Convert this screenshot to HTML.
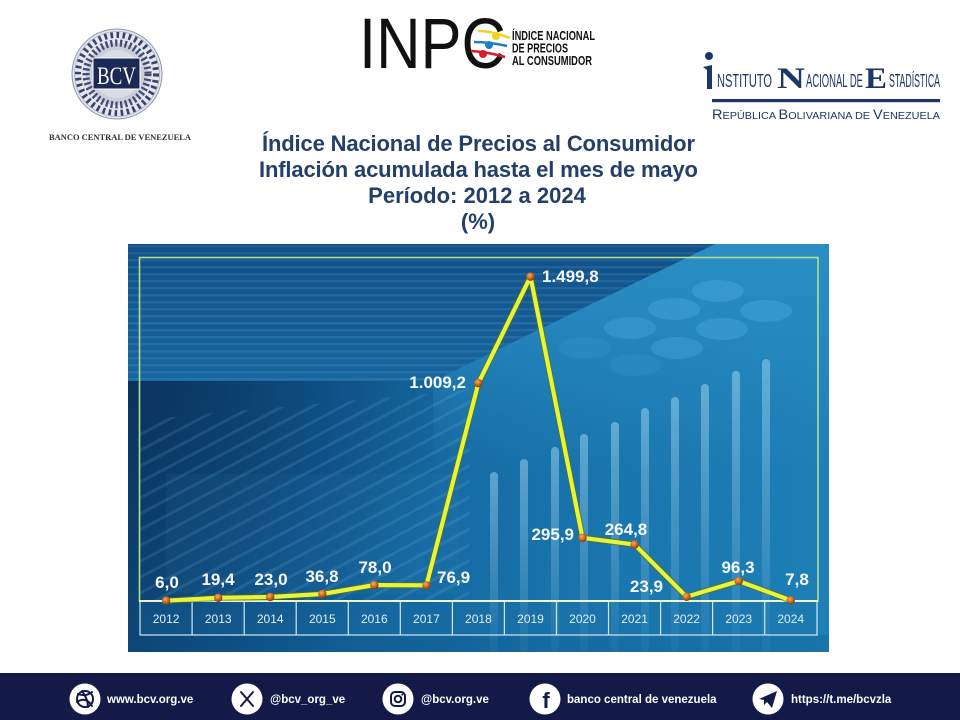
<!DOCTYPE html>
<html><head><meta charset="utf-8">
<style>
html,body{margin:0;padding:0;background:#fff;}
svg{display:block;}
</style></head><body>
<svg width="960" height="720" viewBox="0 0 960 720" xmlns="http://www.w3.org/2000/svg" font-family="'Liberation Sans', Arial, sans-serif">
<defs>
 <linearGradient id="base" x1="128" y1="0" x2="829" y2="0" gradientUnits="userSpaceOnUse">
  <stop offset="0" stop-color="#0f4b7e"/>
  <stop offset="0.3" stop-color="#13629b"/>
  <stop offset="0.62" stop-color="#1973ab"/>
  <stop offset="1" stop-color="#1d7fb6"/>
 </linearGradient>
 <linearGradient id="band" x1="0" y1="244" x2="0" y2="381" gradientUnits="userSpaceOnUse">
  <stop offset="0" stop-color="#0f5088"/>
  <stop offset="1" stop-color="#1666a0"/>
 </linearGradient>
 <pattern id="hstripe" width="10" height="7" patternUnits="userSpaceOnUse">
  <rect width="10" height="2.5" fill="#ffffff" opacity="0.08"/>
 </pattern>
 <linearGradient id="tr" x1="0" y1="244" x2="0" y2="470" gradientUnits="userSpaceOnUse">
  <stop offset="0" stop-color="#2a8fc5" stop-opacity="1"/>
  <stop offset="1" stop-color="#2a8fc5" stop-opacity="0"/>
 </linearGradient>
 <radialGradient id="dark" cx="128" cy="381" r="340" gradientUnits="userSpaceOnUse">
  <stop offset="0" stop-color="#072b52" stop-opacity="0.75"/>
  <stop offset="1" stop-color="#072b52" stop-opacity="0"/>
 </radialGradient>
 <linearGradient id="bar" x1="0" y1="0" x2="0" y2="1">
  <stop offset="0" stop-color="#a6d8f2" stop-opacity="0.5"/>
  <stop offset="1" stop-color="#a6d8f2" stop-opacity="0.06"/>
 </linearGradient>
 <pattern id="diag" width="14" height="14" patternUnits="userSpaceOnUse" patternTransform="rotate(-28)">
  <rect width="14" height="3" fill="#7fc0e8" opacity="0.15"/>
 </pattern>
 <radialGradient id="pt" cx="0.4" cy="0.35" r="0.7">
  <stop offset="0" stop-color="#f7b060"/>
  <stop offset="0.55" stop-color="#c8661c"/>
  <stop offset="1" stop-color="#6e3208"/>
 </radialGradient>
 <clipPath id="panel"><rect x="128" y="244" width="701" height="408"/></clipPath>
</defs>

<rect width="960" height="720" fill="#ffffff"/>

<!-- BCV seal -->
<g>
 <circle cx="117" cy="74" r="45" fill="#e4e7ee" stroke="#8c95a8" stroke-width="1"/>
 <circle cx="117" cy="74" r="42.5" fill="none" stroke="#aab2c2" stroke-width="0.8"/>
 <circle cx="117" cy="74" r="31" fill="#c9ced9"/>
 <circle cx="117" cy="74" r="31" fill="none" stroke="#26335e" stroke-width="7" stroke-dasharray="2.2 2.6" opacity="0.85"/>
 <circle cx="117" cy="74" r="39" fill="none" stroke="#26335e" stroke-width="6" stroke-dasharray="2.6 3.5" opacity="0.9"/>
 <circle cx="117" cy="74" r="24" fill="#d9dde6"/>
 <rect x="93" y="58" width="47" height="31" fill="#1b2a55" stroke="#ffffff" stroke-width="1"/>
 <text x="116.5" y="84" font-family="'Liberation Serif', serif" font-size="25" fill="#ffffff" text-anchor="middle" textLength="39" lengthAdjust="spacingAndGlyphs">BCV</text>
</g>
<text x="49" y="140" font-family="'Liberation Serif', serif" font-size="8" font-weight="bold" fill="#333" textLength="142" lengthAdjust="spacingAndGlyphs">BANCO CENTRAL DE VENEZUELA</text>

<!-- INPC logo -->
<g>
 <text x="359" y="68" font-size="71" fill="#111" textLength="147" lengthAdjust="spacingAndGlyphs">INPC</text>
 <path d="M478 31 Q492 31 510 38" stroke="#f2d21c" stroke-width="2.5" fill="none"/>
 <circle cx="496" cy="36" r="4" fill="#f2d21c"/>
 <path d="M474 42 Q490 42 507 46" stroke="#1f7fc4" stroke-width="2.5" fill="none"/>
 <circle cx="489" cy="45" r="4" fill="#1f7fc4"/>
 <path d="M471 51 Q488 52 505 57" stroke="#d81d2b" stroke-width="2.5" fill="none"/>
 <circle cx="483" cy="54" r="4" fill="#d81d2b"/>
 <text x="512" y="40" font-size="13" font-weight="bold" fill="#111" textLength="83" lengthAdjust="spacingAndGlyphs">ÍNDICE NACIONAL</text>
 <text x="512" y="52.5" font-size="13" font-weight="bold" fill="#111" textLength="56" lengthAdjust="spacingAndGlyphs">DE PRECIOS</text>
 <text x="512" y="65" font-size="13" font-weight="bold" fill="#111" textLength="80" lengthAdjust="spacingAndGlyphs">AL CONSUMIDOR</text>
</g>

<!-- INE logo -->
<g fill="#1c3668">
 <circle cx="709" cy="56" r="4"/>
 <path d="M703 67 L712 65 L712 89 L707 89 L707 70 Z"/>
 <text x="717" y="87" font-size="18" textLength="55" lengthAdjust="spacingAndGlyphs">NSTITUTO</text>
 <text x="777" y="88" font-family="'Liberation Serif', serif" font-size="30" font-weight="bold" textLength="28" lengthAdjust="spacingAndGlyphs">N</text>
 <text x="806" y="87" font-size="18" textLength="57" lengthAdjust="spacingAndGlyphs">ACIONAL DE</text>
 <text x="865" y="88" font-family="'Liberation Serif', serif" font-size="30" font-weight="bold" textLength="22" lengthAdjust="spacingAndGlyphs">E</text>
 <text x="889" y="87" font-size="18" textLength="51" lengthAdjust="spacingAndGlyphs">STADÍSTICA</text>
 <rect x="712" y="99" width="228" height="3.2"/>
 <text x="712" y="119" font-size="10.5" textLength="228" lengthAdjust="spacingAndGlyphs"><tspan font-size="14">R</tspan>EPÚBLICA <tspan font-size="14">B</tspan>OLIVARIANA DE <tspan font-size="14">V</tspan>ENEZUELA</text>
</g>

<!-- Title -->
<g font-size="22" font-weight="bold" fill="#243f68">
 <text x="262" y="151" textLength="433">Índice Nacional de Precios al Consumidor</text>
 <text x="259" y="177" textLength="439">Inflación acumulada hasta el mes de mayo</text>
 <text x="477" y="203" text-anchor="middle">Período: 2012 a 2024</text>
 <text x="478" y="229" text-anchor="middle">(%)</text>
</g>

<!-- Chart panel -->
<g clip-path="url(#panel)">
 <rect x="128" y="244" width="701" height="408" fill="url(#base)"/>
 <polygon points="433,381 715,244 829,244 829,470 433,470" fill="url(#tr)"/>
 <rect x="128" y="381" width="500" height="271" fill="url(#dark)"/>
 <polygon points="140,600 140,420 470,390 470,600" fill="url(#diag)"/>
 <polygon points="128,244 715,244 433,381 128,381" fill="url(#band)"/>
 <polygon points="128,244 715,244 433,381 128,381" fill="url(#hstripe)"/>
 <rect x="166" y="474" width="294" height="120" fill="#4aa0d8" opacity="0.07"/>
 <g fill="#4aa8dc">
  <ellipse cx="718" cy="291" rx="26" ry="11" opacity="0.45"/>
  <ellipse cx="674" cy="309" rx="26" ry="11" opacity="0.45"/>
  <ellipse cx="766" cy="311" rx="26" ry="11" opacity="0.45"/>
  <ellipse cx="630" cy="328" rx="26" ry="11" opacity="0.4"/>
  <ellipse cx="722" cy="329" rx="26" ry="11" opacity="0.45"/>
  <ellipse cx="677" cy="348" rx="26" ry="11" opacity="0.4"/>
  <ellipse cx="585" cy="348" rx="26" ry="11" opacity="0.18"/>
  <ellipse cx="635" cy="365" rx="26" ry="11" opacity="0.18"/>
 </g>
 <g fill="url(#bar)">
  <rect x="490" y="472" width="8" height="180" rx="4"/>
  <rect x="520" y="459" width="8" height="193" rx="4"/>
  <rect x="551" y="447" width="8" height="205" rx="4"/>
  <rect x="580" y="434" width="8" height="218" rx="4"/>
  <rect x="611" y="422" width="8" height="230" rx="4"/>
  <rect x="641" y="408" width="8" height="244" rx="4"/>
  <rect x="671" y="397" width="8" height="255" rx="4"/>
  <rect x="701" y="384" width="8" height="268" rx="4"/>
  <rect x="732" y="371" width="8" height="281" rx="4"/>
  <rect x="762" y="359" width="8" height="293" rx="4"/>
 </g>
 <rect x="128" y="635" width="701" height="17" fill="#0a4a7c" opacity="0.2"/>
</g>

<!-- frame & table -->
<rect x="139.5" y="257.5" width="678.5" height="343.5" fill="none" stroke="#b5dc8c" stroke-width="1.6"/>
<rect x="140" y="601" width="677" height="34" fill="#1a6fa6" opacity="0.25"/>
<rect x="140" y="601" width="677" height="34" fill="none" stroke="#cfe8f4" stroke-width="1.2"/>
<g stroke="#cfe8f4" stroke-width="1.2">
 <line x1="192.1" y1="601" x2="192.1" y2="635"/>
 <line x1="244.2" y1="601" x2="244.2" y2="635"/>
 <line x1="296.2" y1="601" x2="296.2" y2="635"/>
 <line x1="348.3" y1="601" x2="348.3" y2="635"/>
 <line x1="400.3" y1="601" x2="400.3" y2="635"/>
 <line x1="452.4" y1="601" x2="452.4" y2="635"/>
 <line x1="504.4" y1="601" x2="504.4" y2="635"/>
 <line x1="556.5" y1="601" x2="556.5" y2="635"/>
 <line x1="608.5" y1="601" x2="608.5" y2="635"/>
 <line x1="660.6" y1="601" x2="660.6" y2="635"/>
 <line x1="712.6" y1="601" x2="712.6" y2="635"/>
 <line x1="764.7" y1="601" x2="764.7" y2="635"/>
</g>
<line x1="139" y1="601" x2="818" y2="601" stroke="#eef5c0" stroke-width="2"/>
<g font-size="12" fill="#e2eff7" text-anchor="middle">
 <text x="166.1" y="623">2012</text>
 <text x="218.2" y="623">2013</text>
 <text x="270.2" y="623">2014</text>
 <text x="322.3" y="623">2015</text>
 <text x="374.3" y="623">2016</text>
 <text x="426.4" y="623">2017</text>
 <text x="478.4" y="623">2018</text>
 <text x="530.5" y="623">2019</text>
 <text x="582.5" y="623">2020</text>
 <text x="634.6" y="623">2021</text>
 <text x="686.6" y="623">2022</text>
 <text x="738.7" y="623">2023</text>
 <text x="790.7" y="623">2024</text>
</g>

<!-- series line -->
<polyline points="166.1,600.7 218.2,597.8 270.2,597.0 322.3,594.0 374.3,585.1 426.4,585.3 478.4,383.1 530.5,276.7 582.5,537.8 634.6,544.6 686.6,596.8 738.7,581.1 790.7,600.3" fill="none" stroke="#5f6e12" stroke-width="6.5" stroke-linejoin="round" opacity="0.6"/>
<polyline points="166.1,600.7 218.2,597.8 270.2,597.0 322.3,594.0 374.3,585.1 426.4,585.3 478.4,383.1 530.5,276.7 582.5,537.8 634.6,544.6 686.6,596.8 738.7,581.1 790.7,600.3" fill="none" stroke="#e6f43a" stroke-width="4.2" stroke-linejoin="round"/>
<g fill="url(#pt)">
 <circle cx="166.1" cy="600.7" r="4.2"/>
 <circle cx="218.2" cy="597.8" r="4.2"/>
 <circle cx="270.2" cy="597.0" r="4.2"/>
 <circle cx="322.3" cy="594.0" r="4.2"/>
 <circle cx="374.3" cy="585.1" r="4.2"/>
 <circle cx="426.4" cy="585.3" r="4.2"/>
 <circle cx="478.4" cy="383.1" r="4.2"/>
 <circle cx="530.5" cy="276.7" r="4.2"/>
 <circle cx="582.5" cy="537.8" r="4.2"/>
 <circle cx="634.6" cy="544.6" r="4.2"/>
 <circle cx="686.6" cy="596.8" r="4.2"/>
 <circle cx="738.7" cy="581.1" r="4.2"/>
 <circle cx="790.7" cy="600.3" r="4.2"/>
</g>

<!-- data labels -->
<g font-size="17" font-weight="bold" fill="#f6f9fb">
 <text x="167" y="588" text-anchor="middle">6,0</text>
 <text x="218" y="585" text-anchor="middle">19,4</text>
 <text x="271" y="585" text-anchor="middle">23,0</text>
 <text x="322" y="582" text-anchor="middle">36,8</text>
 <text x="375" y="573" text-anchor="middle">78,0</text>
 <text x="437" y="583">76,9</text>
 <text x="466" y="388" text-anchor="end">1.009,2</text>
 <text x="542" y="282">1.499,8</text>
 <text x="574" y="540" text-anchor="end">295,9</text>
 <text x="626" y="535" text-anchor="middle">264,8</text>
 <text x="663" y="592" text-anchor="end">23,9</text>
 <text x="738" y="573" text-anchor="middle">96,3</text>
 <text x="797" y="585" text-anchor="middle">7,8</text>
</g>

<!-- Footer -->
<rect x="0" y="673" width="960" height="47" fill="#141a47"/>
<g fill="#ffffff">
 <circle cx="85" cy="699" r="15.5"/>
 <circle cx="247" cy="699" r="15.5"/>
 <circle cx="398" cy="699" r="15.5"/>
 <circle cx="545" cy="699" r="15.5"/>
 <circle cx="768" cy="699" r="15.5"/>
</g>
<g stroke="#141a47" stroke-width="2" fill="none" stroke-linecap="round">
 <circle cx="85" cy="699" r="8"/>
 <path d="M78 694 Q86 697 92 692"/>
 <path d="M77 702 Q86 696 92 706"/>
 <path d="M82 691 Q88 699 88 707"/>
 <line x1="241" y1="692" x2="253" y2="706"/>
 <line x1="253" y1="692" x2="241" y2="706"/>
 <rect x="391" y="692" width="14" height="14" rx="4"/>
 <circle cx="398" cy="699" r="3.3"/>
</g>
<circle cx="402.3" cy="694.6" r="1" fill="#141a47"/>
<text x="546" y="708" font-size="22" font-weight="bold" fill="#141a47" text-anchor="middle">f</text>
<polygon points="759,699 777,691 772,708 767,702 764,705 764,700" fill="#141a47"/>
<g font-size="11.5" font-weight="bold" fill="#ffffff">
 <text x="107" y="703">www.bcv.org.ve</text>
 <text x="270" y="703">@bcv_org_ve</text>
 <text x="421" y="703">@bcv.org.ve</text>
 <text x="567" y="703">banco central de venezuela</text>
 <text x="791" y="703">https://t.me/bcvzla</text>
</g>
</svg>
</body></html>
